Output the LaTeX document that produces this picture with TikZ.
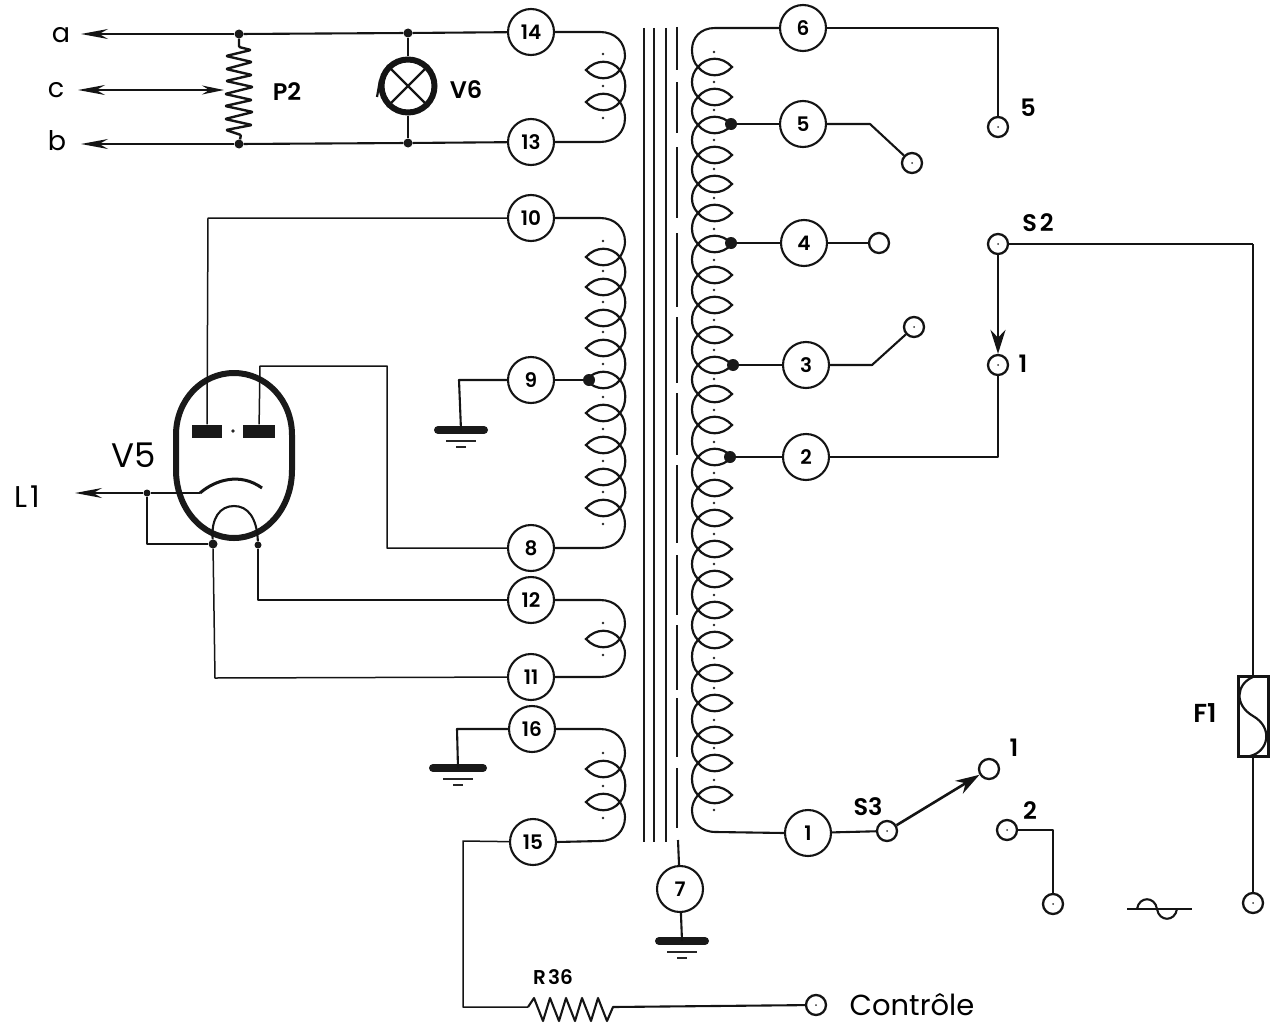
\documentclass[tikz,border=0pt]{standalone}
\usepackage{fontspec}
\setmainfont{Poppins}
\newfontfamily\medf{Poppins SemiBold}
\usetikzlibrary{arrows.meta}
\tikzset{
  wire/.style={draw=black!92,line width=2.1pt,line join=round},
  thinwire/.style={draw=black!92,line width=1.5pt,line join=round},
  loopw/.style={draw=black!92,line width=2.2pt},
  pin/.style={circle,draw=black!92,line width=2.1pt,minimum size=46pt,inner sep=0pt,font=\fontsize{20}{20}\medf\selectfont},
  term/.style={circle,draw=black!92,line width=2.3pt,minimum size=20pt,inner sep=0pt},
  tap/.style={circle,fill=black!90,minimum size=12pt,inner sep=0pt},
  joint/.style={circle,fill=black!90,minimum size=9pt,inner sep=0pt},
  small joint/.style={circle,fill=black!90,minimum size=7pt,inner sep=0pt},
  txt/.style={inner sep=0pt,font=\fontsize{27}{27}\selectfont},
  txtb/.style={inner sep=0pt,font=\fontsize{24}{24}\medf\selectfont},
  plate/.style={fill=black!90,draw=none},
  tipL/.style={-{Stealth[length=27pt,width=10pt]}},
}
% left-hand winding: nodes, wire ys, leaf ys, first and last leaf
\newcommand{\lcoil}[7]{%
  \draw[wire] (#1.east) -- (600,#3) .. controls (615,#3) and (625,#3+10) .. (625,#3+24) .. controls (625,#6-10) and (623,#6-5) .. (620,#6);
  \draw[wire] (#2.east) -- (600,#4) .. controls (615,#4) and (625,#4-10) .. (625,#4-24) .. controls (625,#7+10) and (623,#7+5) .. (620,#7);
  \foreach \y [remember=\y as \py (initially 0)] in {#5}{%
    \draw[loopw] (620,\y) .. controls (611,\y-11) and (596,\y-11) .. (586,\y) .. controls (596,\y+11) and (611,\y+11) .. (620,\y);
    \fill[black!85] (603,\y-16) circle (1.3pt);
    \ifnum\py>0 \draw[loopw] (620,\py) .. controls (627,\py+8) and (627,\y-8) .. (620,\y);\fi
  }%
  \fill[black!85] (603,#7+16) circle (1.3pt);
}
\newcommand{\gnd}[4]{% name, x, y, half width
  \draw[line width=8pt,line cap=round,draw=black!90] (#2-#4+4,#3) -- (#2+#4-4,#3);
  \draw[line width=1.4pt,draw=black!85] (#2-15,#3+11) -- (#2+15,#3+11);
  \draw[line width=1.4pt,draw=black!85] (#2-5,#3+17) -- (#2+5,#3+17);
  \coordinate (#1) at (#2,#3);
}
\begin{document}
\begin{tikzpicture}[x=1pt,y=-1pt]
\useasboundingbox (0,0) rectangle (1274,1025);

% pins left
\node[pin] (n14) at (531,32) {14};
\node[pin] (n13) at (531,142) {13};
\node[pin] (n10) at (531,218) {10};
\node[pin] (n9) at (531,380) {9};
\node[pin] (n8) at (531,548) {8};
\node[pin] (n12) at (531,600) {12};
\node[pin] (n11) at (531,677) {11};
\node[pin] (n16) at (532,729) {16};
\node[pin] (n15) at (533,842) {15};
\node[pin] (n7) at (680,889) {7};
% pins right
\node[pin] (n6) at (803,28) {6};
\node[pin] (n5) at (803,124) {5};
\node[pin] (n4) at (804,243) {4};
\node[pin] (n3) at (806,365) {3};
\node[pin] (n2) at (806,457) {2};
\node[pin] (n1) at (808,833) {1};

% left windings
\lcoil{n14}{n13}{32}{142}{70,102}{70}{102}
\lcoil{n10}{n8}{218}{548}{257,287,318,348,380,413,445,477,508}{257}{508}
\lcoil{n12}{n11}{600}{677}{639}{639}{639}
\lcoil{n16}{n15}{729}{841}{769,802}{769}{802}

% core
\foreach \x in {644,654,666}{\draw[line width=2.2pt,draw=black!90] (\x,28) -- (\x,842);}
\foreach \a/\b in {27/70,82/133,147/218,233/307,317/383,393/455,465/543,555/615,625/690,698/757,768/828}{
  \draw[line width=2.4pt,draw=black!90] (677,\a) -- (677,\b);}
\coordinate (c7) at (678,840);
\draw[wire] (c7) -- (n7);

% right winding
\coordinate (rtop) at (715,28);
\coordinate (rbot) at (716,832);
\draw[wire] (n6.west) -- (rtop) .. controls (700,28) and (692,38) .. (692,50) .. controls (692,57) and (694,63) .. (698,67);
\draw[wire] (n1.west) -- (rbot) .. controls (700,832) and (692,822) .. (692,810) .. controls (692,805) and (694,800) .. (698,795);
\foreach \y [remember=\y as \py (initially 0)] in {67,97,125,155,184,213,244,275,305,335,365,394,425,457,488,518,549,579,610,640,673,703,735,763,795}{
  \draw[loopw] (698,\y) .. controls (707,\y-11) and (722,\y-11) .. (732,\y) .. controls (722,\y+11) and (707,\y+11) .. (698,\y);
  \fill[black!85] (714,\y-15) circle (1.3pt);
  \ifnum\py>0 \draw[loopw] (698,\py) .. controls (690,\py+8) and (690,\y-8) .. (698,\y);\fi
}
\fill[black!85] (714,810) circle (1.3pt);

% taps
\node[tap] (t5) at (731,124) {};
\node[tap] (t4) at (731,243) {};
\node[tap] (t3) at (733,365) {};
\node[tap] (t2) at (730,457) {};
\node[tap] (t9) at (589,380) {};
\draw[wire] (t5) -- (n5);
\draw[wire] (t4) -- (n4);
\draw[wire] (t3) -- (n3);
\draw[wire] (t2) -- (n2);
\draw[wire] (t9) -- (n9);

% terminals
\node[term] (T5) at (998,127) {};
\node[term] (Tu5) at (912,163) {};
\node[term] (Tu4) at (879,243) {};
\node[term] (Tu3) at (914,327) {};
\node[term] (S2) at (998,244) {};
\node[term] (Sone) at (998,365) {};
\node[term] (S3) at (887,831) {};
\node[term] (Sa) at (989,769) {};
\node[term] (Sb) at (1007,830) {};
\node[term] (Pb) at (1053,904) {};
\node[term] (Pf) at (1253,903) {};
\node[term] (Tc) at (816,1005) {};
\foreach \n in {T5,Tu5,Tu3,S2,Sone,S3,Sb,Pb,Pf,Tc}{\fill[black!80] (\n) circle (1pt);}

\coordinate (k6) at (998,28);
\coordinate (k5) at (870,124);
\coordinate (k3) at (872,365);
\coordinate (k2) at (998,457);
\coordinate (kf) at (1253,244);
\coordinate (kb) at (1053,830);
\draw[wire] (n6) -- (k6) -- (T5);
\draw[wire] (n5) -- (k5) -- (Tu5);
\draw[wire] (n4) -- (Tu4);
\draw[wire] (n3) -- (k3) -- (Tu3);
\draw[wire] (n2) -- (k2) -- (Sone);
\draw[wire,line width=2.6pt,-{Stealth[length=24pt,width=15pt]}] (S2) -- (Sone);
\draw[wire] (S2) -- (kf);
\draw[wire] (n1) -- (S3);
\draw[wire,line width=2.6pt,-{Stealth[length=24pt,width=15pt]}] (S3) -- (Sa);
\draw[wire] (Sb) -- (kb) -- (Pb);

% fuse
\node[draw=black!92,line width=3pt,minimum width=30pt,minimum height=80pt,inner sep=0pt] (F1) at (1253,716.5) {};
\draw[wire] (kf) -- (F1.north);
\draw[wire] (F1.south) -- (Pf);
\draw[loopw] (1253,677) .. controls (1236,684) and (1234,705) .. (1253,716) .. controls (1274,728) and (1268,752) .. (1250,756);

% a.c. sign
\draw[wire] (1127,909) -- (1192,909);
\draw[wire] (1137,909) .. controls (1139,896) and (1155,896) .. (1157,909) .. controls (1159,922) and (1175,922) .. (1177,909);

% output lines
\node[joint] (ja) at (239,34) {};
\node[joint] (jb) at (239,144) {};
\node[joint] (la) at (408,33) {};
\node[joint] (lb) at (408,143) {};
\coordinate (ea) at (81,34);
\coordinate (eb) at (81,144);
\coordinate (ec) at (78,90);
\coordinate (wc) at (224,90);
\draw[wire] (n14) -- (la) -- (ja);
\draw[wire] (n13) -- (lb) -- (jb);
\draw[wire,tipL] (ja) -- (ea);
\draw[wire,tipL] (jb) -- (eb);
\draw[thinwire,{Stealth[length=27pt,width=10pt]}-{Stealth[length=22pt,width=9pt]}] (ec) -- (wc);
\draw[wire,line width=2.4pt,rounded corners=1pt] (ja) -- (239,47) -- (251,50) -- (226,56) -- (252,62) -- (226,69) -- (252,75) -- (226,81) -- (253,87) -- (225,94) -- (252,100) -- (225,106) -- (253,112) -- (225,119) -- (252,125) -- (226,130) -- (241,135) -- (jb);

% lamp V6
\node[circle,draw=black!92,line width=6pt,minimum size=53pt,inner sep=0pt] (V6) at (408,86) {};
\draw[wire] (la) -- (V6);
\draw[wire] (V6) -- (lb);
\draw[line width=2.4pt,draw=black!92] (V6.45) -- (V6.225) (V6.135) -- (V6.315);
\draw[line width=2.2pt,draw=black!92] (380,80) -- (377,97);

% tube V5
\draw[line width=6pt,draw=black!90] (234,373) .. controls (266,373) and (292,400) .. (292,435) -- (292,470) .. controls (292,508) and (266,538) .. (234,538) .. controls (202,538) and (176,508) .. (176,470) -- (176,435) .. controls (176,400) and (202,373) .. (234,373) -- cycle;
\node[plate,minimum width=30pt,minimum height=13pt,inner sep=0pt] (pl1) at (207,431) {};
\node[plate,minimum width=32pt,minimum height=13pt,inner sep=0pt] (pl2) at (259,431) {};
\fill[black!85] (233,431) circle (1.8pt);
\coordinate (k10) at (208,218);
\coordinate (k21) at (260,366);
\coordinate (k22) at (387,366);
\coordinate (k23) at (387,548);
\draw[thinwire] (n10) -- (k10) -- (pl1);
\draw[thinwire] (pl2) -- (k21) -- (k22) -- (k23) -- (n8);
\node[small joint] (jL) at (147,493) {};
\node[joint] (jh1) at (213,544) {};
\node[small joint] (jh2) at (258,545) {};
\coordinate (eL) at (75,493);
\coordinate (g1) at (200,493);
\coordinate (kL) at (147,544);
\coordinate (k11) at (215,678);
\coordinate (k12) at (258,600);
\draw[wire,tipL] (jL) -- (eL);
\draw[thinwire] (jL) -- (g1);
\draw[line width=3pt,draw=black!92] (g1) .. controls (215,480) and (240,472) .. (262,488);
\draw[thinwire] (jL) -- (kL) -- (jh1);
\draw[thinwire] (jh1) -- (k11) -- (n11);
\draw[thinwire] (jh2) -- (k12) -- (n12);
\draw[wire] (jh1) .. controls (211,518) and (220,506) .. (234,506) .. controls (248,506) and (257,518) .. (jh2);

% grounds
\gnd{g9}{461}{430}{27}
\gnd{g16}{458}{768}{29}
\gnd{g7}{682}{941}{27}
\coordinate (k9) at (459,380);
\coordinate (k16) at (457,729);
\draw[wire] (n9) -- (k9) -- (g9);
\draw[wire] (n16) -- (k16) -- (g16);
\draw[wire] (n7) -- (g7);

% control line
\coordinate (k15) at (463,841);
\coordinate (k36) at (463,1007);
\coordinate (r36) at (528,1007);
\draw[thinwire] (n15) -- (k15) -- (k36) -- (r36);
\draw[wire] (r36) -- (534,998) -- (543,1021) -- (550,998) -- (559,1021) -- (566,998) -- (575,1021) -- (582,998) -- (591,1021) -- (598,998) -- (607,1021) -- (613,1007) -- (Tc);

% labels
\node[txt] (la1) at (61,35) {a};
\node[txt] (lc1) at (56,90) {c};
\node[txt] (lb1) at (57,141) {b};
\node[txtb] (lP) at (287,92) {P2};
\node[txtb] (lV6) at (466,90) {V6};
\node[txt,font=\fontsize{34}{34}\selectfont] (lV5) at (134,455) {V5};
\node[txt,font=\fontsize{30}{30}\selectfont] (lL1) at (27,497) {L\kern3pt 1};
\node[txtb] (l5) at (1028,108) {5};
\node[txtb] (lS2) at (1038,223) {S\kern3pt 2};
\node[txtb] (l1a) at (1023,364) {1};
\node[txtb] (lS3) at (868,807) {S3};
\node[txtb] (l1b) at (1014,748) {1};
\node[txtb] (l2) at (1030,811) {2};
\node[txtb,font=\fontsize{26}{26}\medf\selectfont] (lF1) at (1205,713) {F1};
\node[txtb,font=\fontsize{20}{20}\medf\selectfont] (lR) at (553,977) {R\kern2pt 36};
\node[txt,font=\fontsize{29}{29}\selectfont] (lC) at (912,1005) {Contrôle};
\end{tikzpicture}
\end{document}
